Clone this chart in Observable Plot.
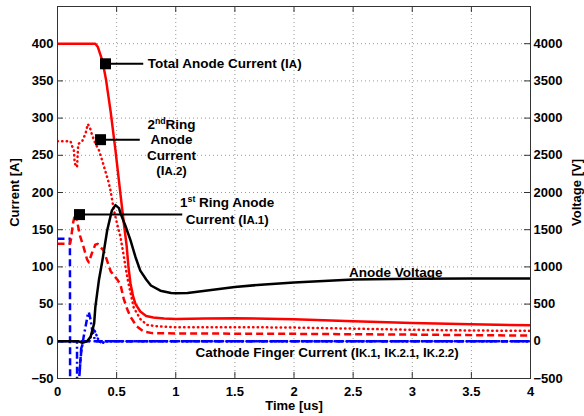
<!DOCTYPE html>
<html><head><meta charset="utf-8">
<script src="https://cdn.jsdelivr.net/npm/d3@7"></script>
<script src="https://cdn.jsdelivr.net/npm/@observablehq/plot@0.6"></script>
<style>
html,body{margin:0;padding:0;background:#fff;}
#chart svg{display:block;}
</style></head><body><div id="chart"></div>
<script>
// ---- data: [time (us), value] ----
const totalAnodeCurrent = [[0,400],[0.32,400],[0.34,396],[0.38,377],[0.41,352],[0.45,308],[0.49,257],[0.533,197],[0.56,160],[0.585,128],[0.60,100],[0.617,78],[0.64,60],[0.66,50],[0.70,40],[0.75,34],[0.81,32],[0.9,30.5],[1,30],[1.25,30.5],[1.5,31],[2,29.8],[2.5,27],[3,24.6],[3.5,22.8],[4,21.5]];
const ring2AnodeCurrent = [[0,269],[0.11,269],[0.124,262],[0.138,258],[0.146,239],[0.165,234],[0.175,265],[0.209,269],[0.237,279],[0.256,292],[0.273,288],[0.293,277],[0.32,266],[0.35,257],[0.378,243],[0.406,228],[0.428,216],[0.448,203],[0.475,178],[0.505,157],[0.533,140],[0.56,115],[0.575,100],[0.60,78],[0.645,45],[0.70,30],[0.758,22],[0.85,20],[1,19],[1.5,19],[2,18.5],[2.5,17],[3,15.5],[3.5,14.5],[4,14]];
const ring1AnodeCurrent = [[0,131],[0.105,131],[0.115,138],[0.13,158],[0.15,172],[0.165,162],[0.19,142],[0.22,127],[0.25,110],[0.265,106],[0.29,118],[0.32,130],[0.34,131],[0.39,122],[0.42,108],[0.45,94],[0.48,88],[0.51,82],[0.533,76],[0.56,57],[0.59,43],[0.617,33],[0.67,20],[0.73,13],[0.8,11],[1,10.5],[1.5,10.3],[2,10],[2.5,9.5],[3,9],[3.5,8.3],[4,7.6]];
const anodeVoltage = [[0,0],[0.18,0],[0.21,-20],[0.25,0],[0.28,60],[0.31,240],[0.32,460],[0.335,640],[0.35,820],[0.38,1090],[0.42,1490],[0.46,1760],[0.49,1830],[0.52,1790],[0.533,1720],[0.575,1550],[0.617,1360],[0.66,1130],[0.70,950],[0.75,830],[0.79,750],[0.87,680],[0.96,650],[1.0,645],[1.1,650],[1.25,680],[1.5,730],[1.75,765],[2,790],[2.5,830],[3,840],[3.5,845],[4,845]];
const cathodeK1 = [[0,138],[0.105,138],[0.11,-450],[0.175,-450],[0.18,-60],[0.2,-10],[0.22,0],[4,0]];
const cathodeK21 = [[0,0],[0.165,0],[0.17,-450],[0.176,-450],[0.185,-45],[0.2,-15],[0.22,5],[0.24,22],[0.255,35],[0.265,39],[0.28,29],[0.293,15],[0.32,0],[4,0]];
const cathodeK22 = [[0,0],[0.27,0],[0.285,8],[0.307,17],[0.32,12],[0.34,4],[0.355,0],[0.378,-3],[0.4,0],[4,0]];

// ---- annotations ----
const markerTime = [0.406, 0.364, 0.186];
const markerCurrent = [373, 271, 170.3];
const connectorEndTime = [0.725, 0.696, 1.055];
const labelTexts = ["Total Anode Current (I_{A})", "2^{nd}Ring\nAnode\nCurrent\n(I_{A.2})", "1^{st} Ring Anode\nCurrent (I_{A.1})", "Anode Voltage", "Cathode Finger Current (I_{K.1}, I_{K.2.1}, I_{K.2.2})"];
const labelTime = [0.764, 0.964, 1.435, 2.86, 1.167];
const labelCurrent = [373, 261.4, 176, 91.8, -15.2];
const labelAnchor = ["start", "middle", "middle", "middle", "start"];
const labelLineHeight = [1, 1.15, 1.23, 1, 1];

// ---- ticks ----
const xTicks = [0,0.5,1,1.5,2,2.5,3,3.5,4];
const yTicks = [-50,0,50,100,150,200,250,300,350,400];
const gridY = [-50,0,50,100,150,200,250,300,350,400,450];

const fmt = d3.format("d");
const font = '"Liberation Sans", Arial, Helvetica, sans-serif';
const PW = 584-57-54, PH = 416-6-38;

const markers = markerTime.map((t,i)=>({t, a: markerCurrent[i], t2: connectorEndTime[i]}));
const labels = labelTexts.map((s,i)=>({s, t: labelTime[i], a: labelCurrent[i], anchor: labelAnchor[i], lh: labelLineHeight[i]}));

const lineOpts = (data, stroke, dash, scale=1, cap="butt") => Plot.line(data, {x: d=>d[0], y: d=>d[1]/scale, stroke, strokeWidth: 2.5, strokeDasharray: dash, strokeLinecap: cap, clip: true});

const plot = Plot.plot({
  width: 584, height: 416,
  marginLeft: 57, marginRight: 54, marginTop: 6, marginBottom: 38,
  style: {fontFamily: font, fontSize: "13px", fontWeight: "bold", color: "#000", background: "#fff"},
  x: {domain: [0,4]},
  y: {domain: [-50,450]},
  marks: [
    Plot.gridX(xTicks, {stroke: "#999", strokeOpacity: 1, strokeDasharray: "1,3"}),
    Plot.gridY(gridY, {stroke: "#999", strokeOpacity: 1, strokeDasharray: "1,3"}),
    Plot.tickX(xTicks, {x: d=>d, insetTop: PH-6, stroke: "#333"}),
    Plot.tickX(xTicks, {x: d=>d, insetBottom: PH-6, stroke: "#333"}),
    Plot.tickY(yTicks, {y: d=>d, insetRight: PW-6, stroke: "#333"}),
    Plot.tickY(yTicks, {y: d=>d, insetLeft: PW-6, stroke: "#333"}),
    Plot.axisX(xTicks, {anchor: "bottom", tickSize: 0, tickPadding: 8, tickFormat: d=>String(d), label: null, fontSize: 13}),
    Plot.axisY(yTicks, {anchor: "left", tickSize: 0, tickPadding: 4, tickFormat: d=>fmt(d), label: null, fontSize: 13}),
    Plot.axisY(yTicks, {anchor: "right", tickSize: 0, tickPadding: 3, tickFormat: d=>fmt(d*10), label: null, fontSize: 13}),
    lineOpts(cathodeK22, "#0000ff", "0.5,3.5", 1, "round"),
    lineOpts(cathodeK21, "#0000ff", "7,3,2,3"),
    lineOpts(cathodeK1, "#0000ff", "7,4"),
    lineOpts(ring1AnodeCurrent, "#ff0000", "7,4"),
    lineOpts(ring2AnodeCurrent, "#ff0000", "0.4,4.2", 1, "round"),
    lineOpts(totalAnodeCurrent, "#ff0000", null),
    lineOpts(anodeVoltage, "#000000", null, 10),
    Plot.frame({stroke: "#333"}),
    Plot.link(markers, {x1: "t", y1: "a", x2: "t2", y2: "a", stroke: "#000", strokeWidth: 2}),
    Plot.dot(markers, {x: "t", y: "a", symbol: "square", r: 6.2, fill: "#000"}),
    ...labels.map(l => Plot.text([l], {x: "t", y: "a", text: "s", textAnchor: l.anchor, lineHeight: l.lh, fontSize: 13.5, fontWeight: "bold", fill: "#000"})),
    Plot.text(["Current [A]"], {text: d=>d, frameAnchor: "left", dx: -43, rotate: -90, textAnchor: "middle", lineAnchor: "middle", fontSize: 13, fontWeight: "bold"}),
    Plot.text(["Voltage [V]"], {text: d=>d, frameAnchor: "right", dx: 46, rotate: -90, textAnchor: "middle", lineAnchor: "middle", fontSize: 13, fontWeight: "bold"}),
    Plot.text(["Time [us]"], {text: d=>d, frameAnchor: "bottom", dy: 27, textAnchor: "middle", lineAnchor: "middle", fontSize: 13, fontWeight: "bold"})
  ]
});

function applyMarkup(svg){
  const walker = document.createTreeWalker(svg, NodeFilter.SHOW_TEXT);
  const nodes = [];
  while (walker.nextNode()) if (/[\^_]\{/.test(walker.currentNode.nodeValue)) nodes.push(walker.currentNode);
  for (const n of nodes) {
    const frag = document.createDocumentFragment();
    const re = /([\^_])\{([^}]*)\}/g; const s = n.nodeValue; let last = 0, m;
    while ((m = re.exec(s))) {
      if (m.index > last) frag.appendChild(document.createTextNode(s.slice(last, m.index)));
      const t = document.createElementNS("http://www.w3.org/2000/svg", "tspan");
      t.textContent = m[2];
      if (m[1] === "^") { t.setAttribute("font-size", "65%"); t.setAttribute("baseline-shift", "super"); }
      else { t.setAttribute("font-size", "85%"); }
      frag.appendChild(t); last = re.lastIndex;
    }
    if (last < s.length) frag.appendChild(document.createTextNode(s.slice(last)));
    n.parentNode.replaceChild(frag, n);
  }
}
applyMarkup(plot);
document.getElementById("chart").appendChild(plot);
</script></body></html>
